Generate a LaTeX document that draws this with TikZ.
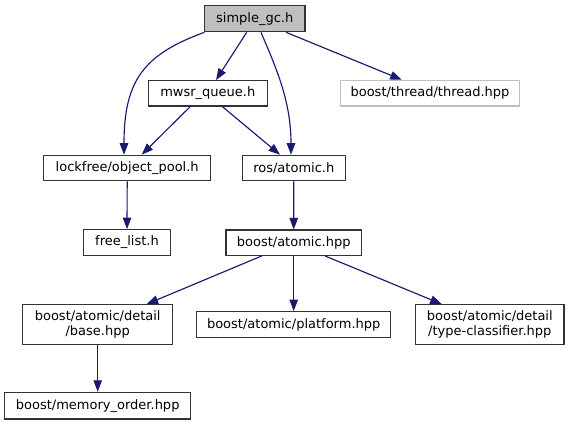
\documentclass[tikz,border=0pt]{standalone}
\usepackage{fontspec}
\setmainfont{DejaVu Sans}
\usetikzlibrary{arrows.meta}
\definecolor{edgecol}{HTML}{191970}
\definecolor{nodegray}{HTML}{BFBFBF}
\definecolor{border}{HTML}{333333}
\tikzset{
  box/.style={draw=border, line width=1.2pt, fill=white, inner sep=0pt, align=center,
    font=\fontsize{13}{15}\selectfont},
  rootbox/.style={box, fill=nodegray},
  greybox/.style={box, draw=nodegray},
  edge/.style={draw=edgecol, line width=1.15pt, -{Triangle[length=11.5pt,width=8.5pt]}},
}
\begin{document}
\begin{tikzpicture}[x=1pt,y=-1pt]
\useasboundingbox (0,0) rectangle (569,425);
\node[rootbox, minimum width=100.7pt, minimum height=26pt] (sgc) at (254.7,18.7) {simple\_gc.h};
\node[box, minimum width=119pt, minimum height=25.3pt] (mwsr) at (207.8,93.3) {mwsr\_queue.h};
\node[greybox, minimum width=178.6pt, minimum height=25.7pt] (thread) at (430,93.2) {boost/thread/thread.hpp};
\node[box, minimum width=167pt, minimum height=25.4pt] (lockfree) at (127.2,168) {lockfree/object\_pool.h};
\node[box, minimum width=103pt, minimum height=25.4pt] (ros) at (293.8,168) {ros/atomic.h};
\node[box, minimum width=87.4pt, minimum height=25.6pt] (free) at (127,242.5) {free\_list.h};
\node[box, minimum width=135.3pt, minimum height=25.3pt] (batomic) at (293.7,242.7) {boost/atomic.hpp};
\node[box, minimum width=150pt, minimum height=40pt] (base) at (97.7,324.7) {boost/atomic/detail\\/base.hpp};
\node[box, minimum width=194pt, minimum height=25.6pt] (platform) at (293.7,324.5) {boost/atomic/platform.hpp};
\node[box, minimum width=148.3pt, minimum height=40pt] (typec) at (489.8,324.7) {boost/atomic/detail\\/type-classifier.hpp};
\node[box, minimum width=186pt, minimum height=26.7pt] (memord) at (97.7,405.7) {boost/memory\_order.hpp};

\draw[edge] ([xshift=-8pt]sgc.south) -- ([xshift=8.2pt]mwsr.north);
\draw[edge] ([xshift=31.3pt]sgc.south) -- ([xshift=-28.3pt]thread.north);
\draw[edge] ([xshift=0.7pt]sgc.south west) .. controls +(-60,22) and +(0,-75) .. ([xshift=-3.2pt]lockfree.north);
\draw[edge] ([xshift=6.3pt]sgc.south) .. controls +(14,33.3) and +(0,-55) .. ([xshift=-2.8pt]ros.north);
\draw[edge] ([xshift=-17.5pt]mwsr.south) -- ([xshift=14.5pt]lockfree.north);
\draw[edge] ([xshift=14.5pt]mwsr.south) -- ([xshift=-13.8pt]ros.north);
\draw[edge] (lockfree.south) -- (free.north);
\draw[edge] (ros.south) -- (batomic.north);
\draw[edge] ([xshift=-32pt]batomic.south) -- ([xshift=49pt]base.north);
\draw[edge] (batomic.south) -- (platform.north);
\draw[edge] ([xshift=31.3pt]batomic.south) -- ([xshift=-48.1pt]typec.north);
\draw[edge] (base.south) -- (memord.north);
\end{tikzpicture}
\end{document}
